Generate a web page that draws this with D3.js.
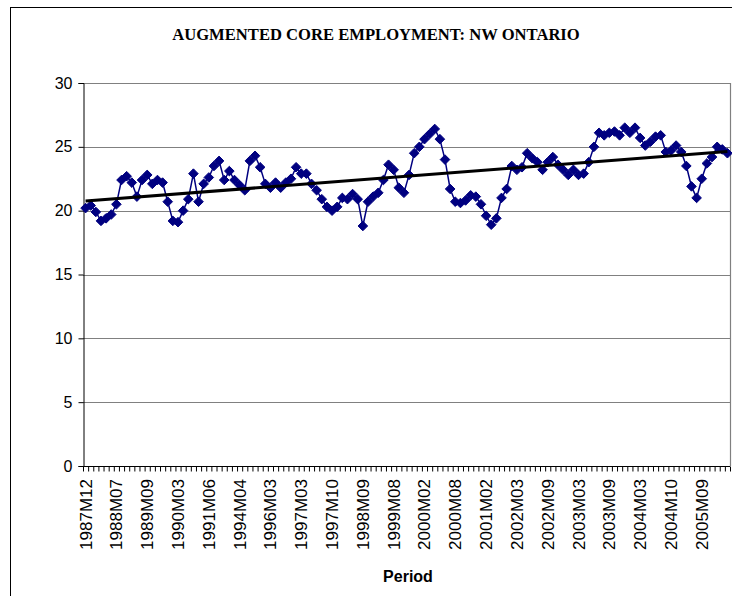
<!DOCTYPE html>
<html>
<head>
<meta charset="utf-8">
<script src="https://cdn.jsdelivr.net/npm/d3@7"></script>
<style>
  html, body { margin: 0; padding: 0; background: #fff; }
  svg { display: block; }
</style>
</head>
<body>
<svg id="chart" width="732" height="596"></svg>
<script>
const chartTitle = "AUGMENTED CORE EMPLOYMENT: NW ONTARIO";
const xAxisTitle = "Period";
const tickLabels = ["1987M12","1988M07","1989M09","1990M03","1991M06","1994M04","1996M03",
  "1997M03","1997M10","1998M09","1999M08","2000M02","2000M08","2001M02","2002M03",
  "2002M09","2003M03","2003M09","2004M03","2004M10","2005M09"];
const labelEvery = 6;
const values = [
  20.2, 20.4, 19.9, 19.2, 19.4, 19.7, 20.5, 22.4, 22.7, 22.2, 21.1, 22.4, 22.8, 22.1, 22.4, 22.2,
  20.7, 19.2, 19.1, 20.0, 20.9, 22.9, 20.7, 22.1, 22.6, 23.5, 23.9, 22.4, 23.1, 22.4, 22.0, 21.6,
  23.9, 24.3, 23.4, 22.1, 21.8, 22.2, 21.8, 22.2, 22.5, 23.4, 22.9, 22.9, 22.1, 21.6, 20.9, 20.3,
  20.0, 20.3, 21.0, 20.9, 21.3, 20.9, 18.8, 20.7, 21.1, 21.4, 22.4, 23.6, 23.2, 21.8, 21.4,
  22.8, 24.5, 25.0, 25.6, 26.0, 26.4, 25.6, 24.0, 21.7, 20.7, 20.6, 20.8, 21.2, 21.1, 20.5, 19.6,
  18.9, 19.4, 21.0, 21.7, 23.5, 23.2, 23.4, 24.5, 24.1, 23.8, 23.2, 23.8, 24.2, 23.6, 23.2, 22.8,
  23.2, 22.8, 22.9, 23.8, 25.0, 26.1, 25.9, 26.1, 26.2, 25.9, 26.5, 26.1, 26.5, 25.7, 25.1, 25.4,
  25.8, 25.9, 24.6, 24.7, 25.1, 24.6, 23.5, 21.9, 21.0, 22.5, 23.7, 24.2, 25.0, 24.8, 24.5
];
const yTicks = [0, 5, 10, 15, 20, 25, 30];

const svg = d3.select("#chart");
const W = 732, H = 596;
const plot = { left: 83, right: 730, top: 83, bottom: 466 };

// outer chart border
svg.append("rect").attr("x", 10.5).attr("y", 7.5).attr("width", W + 10).attr("height", H + 10)
  .attr("fill", "#fff").attr("stroke", "#000").attr("stroke-width", 1);

const N = values.length;
const x = d3.scaleBand().domain(d3.range(N)).range([plot.left, plot.right]).paddingInner(0).paddingOuter(0);
const xEdge = d3.scaleLinear().domain([0, N]).range([plot.left, plot.right]);
const y = d3.scaleLinear().domain([0, 30]).range([plot.bottom, plot.top]);
const cx = i => x(i) + x.bandwidth() / 2;

// gridlines
svg.append("g").selectAll("line").data(yTicks.filter(d => d > 0)).join("line")
  .attr("x1", plot.left).attr("x2", plot.right)
  .attr("y1", d => Math.round(y(d)) + 0.5).attr("y2", d => Math.round(y(d)) + 0.5)
  .attr("stroke", "#808080").attr("stroke-width", 1.2);
// right border of plot area
svg.append("line").attr("x1", plot.right + 0.5).attr("x2", plot.right + 0.5)
  .attr("y1", plot.top).attr("y2", plot.bottom).attr("stroke", "#808080").attr("stroke-width", 1.2);

// y axis
const yAxis = d3.axisLeft(y).tickValues(yTicks).tickSize(5).tickPadding(6).tickFormat(d3.format("d"));
const gy = svg.append("g").attr("transform", `translate(${plot.left + 0.5},0)`).call(yAxis);
gy.select(".domain").attr("stroke", "#000");
gy.selectAll(".tick line").attr("stroke", "#000");
gy.selectAll(".tick text").attr("font-family", "Arial, 'Liberation Sans', sans-serif")
  .attr("font-size", 16).attr("fill", "#000");

// x axis (ticks at category boundaries)
const xAxis = d3.axisBottom(xEdge).tickValues(d3.range(N + 1)).tickSize(5).tickFormat("");
const gx = svg.append("g").attr("transform", `translate(0,${plot.bottom + 0.5})`).call(xAxis);
gx.select(".domain").attr("stroke", "#000").attr("d", `M${plot.left},0H${plot.right}`);
gx.selectAll(".tick line").attr("stroke", "#000");

// x tick labels
svg.append("g").selectAll("text").data(tickLabels).join("text")
  .attr("transform", (d, k) => `translate(${cx(k * labelEvery) + 6},${plot.bottom + 13}) rotate(-90)`)
  .attr("text-anchor", "end")
  .attr("font-family", "Arial, 'Liberation Sans', sans-serif")
  .attr("font-size", 17).attr("fill", "#000")
  .text(d => d);

// series line
const line = d3.line().x((d, i) => cx(i)).y(d => y(d));
svg.append("path").datum(values).attr("d", line)
  .attr("fill", "none").attr("stroke", "#000080").attr("stroke-width", 1.5);

// diamond markers
const r = 4.8;
svg.append("g").selectAll("path").data(values).join("path")
  .attr("transform", (d, i) => `translate(${cx(i)},${y(d)})`)
  .attr("d", `M0,${-r}L${r},0L0,${r}L${-r},0Z`)
  .attr("fill", "#000080").attr("stroke", "#000080").attr("stroke-width", 1);

// linear trend line (least squares over category index)
const idx = d3.range(N);
const mx = d3.mean(idx), my = d3.mean(values);
const slope = d3.sum(idx, i => (i - mx) * (values[i] - my)) / d3.sum(idx, i => (i - mx) ** 2);
const icpt = my - slope * mx;
svg.append("line")
  .attr("x1", cx(0)).attr("y1", y(icpt))
  .attr("x2", cx(N - 1)).attr("y2", y(icpt + slope * (N - 1)))
  .attr("stroke", "#000").attr("stroke-width", 3);

// title
svg.append("text").attr("x", 376).attr("y", 40).attr("text-anchor", "middle")
  .attr("font-family", "'Times New Roman', 'Liberation Serif', serif")
  .attr("font-weight", "bold").attr("font-size", 16.6).text(chartTitle);

// x axis title
svg.append("text").attr("x", 408).attr("y", 582).attr("text-anchor", "middle")
  .attr("font-family", "Arial, 'Liberation Sans', sans-serif")
  .attr("font-weight", "bold").attr("font-size", 16).text(xAxisTitle);
</script>
</body>
</html>
